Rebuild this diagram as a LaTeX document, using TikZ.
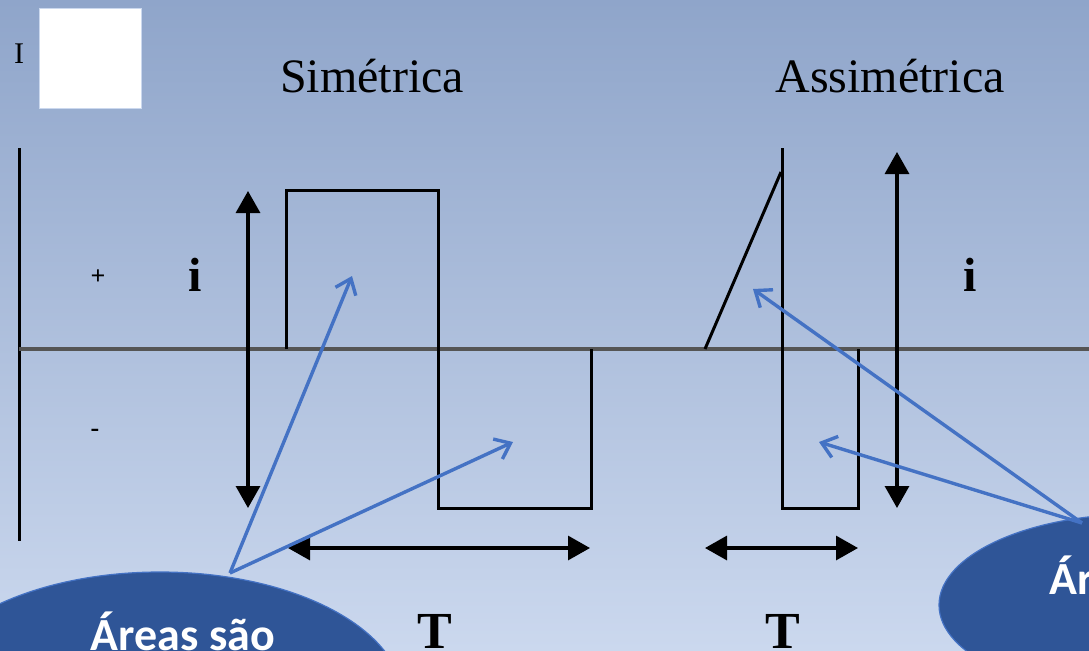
\documentclass[tikz,border=0pt]{standalone}
\usepackage{fontspec}
\setmainfont{Liberation Serif}
\newfontfamily\calloutfont{Carlito}
\usetikzlibrary{arrows.meta,shapes.geometric}
\definecolor{SlideTop}{RGB}{143,165,202}
\definecolor{SlideMid}{RGB}{184,201,233}
\definecolor{SlideBottom}{RGB}{203,216,238}
\definecolor{CalloutFill}{RGB}{47,85,151}
\definecolor{CalloutLine}{RGB}{68,114,196}
\definecolor{SlideBar}{RGB}{55,72,160}
\definecolor{AxisGray}{RGB}{85,85,85}

\begin{document}
\begin{tikzpicture}[
  x=0.5pt,y=-0.5pt,
  wave/.style={line width=1.5pt,black,line join=miter},
  axis/.style={line width=2.4pt,AxisGray},
  dim/.style={
    {Triangle[length=11pt,width=12pt]}-{Triangle[length=11pt,width=12pt]},
    line width=1.6pt,black
  },
  callout/.style={ellipse,draw=CalloutLine,line width=0.6pt,fill=CalloutFill,inner sep=0pt},
  pointer/.style={-{Straight Barb[length=7pt,width=11pt]},line width=1.7pt,CalloutLine},
  title/.style={font=\fontsize{24}{24}\selectfont,anchor=base},
  sign/.style={font=\fontsize{13}{13}\selectfont\bfseries},
  period/.style={font=\fontsize{26}{26}\selectfont\bfseries,anchor=base},
  callouttext/.style={font=\calloutfont\bfseries\fontsize{23}{23}\selectfont,text=white,anchor=base}
]
  \useasboundingbox (0,0) rectangle (1089,650);
  \shade[top color=SlideTop,middle color=SlideMid,bottom color=SlideBottom] (0,0) rectangle (1089,650);

  % header
  \fill[white,draw=SlideBottom,line width=0.5pt] (39,8) rectangle (141,108);
  \node[font=\fontsize{15}{15}\selectfont] (imark) at (19,54) {I};
  \node[title] (simetrica) at (372,92) {Simétrica};
  \node[title] (assimetrica) at (890,92) {Assimétrica};

  % axes
  \draw[wave] (19,148) -- (19,541);
  \draw[axis] (19,349) -- (1089,349);
  \node[sign] (plus) at (98,277) {+};
  \node[sign] (minus) at (95,433) {-};
  \node[title,anchor=center,font=\fontsize{24}{24}\selectfont\bfseries] (ileft) at (195,275) {i};
  \node[title,anchor=center,font=\fontsize{24}{24}\selectfont\bfseries] (iright) at (970,275) {i};

  % symmetric wave
  \draw[wave] (286,349) -- (286,190) -- (438,190) -- (438,508) -- (591,508) -- (591,349);
  \coordinate (ampA top) at (248,191);
  \coordinate (ampA bot) at (248,508);
  \draw[dim] (ampA top) -- (ampA bot);
  \coordinate (perA left) at (288,548);
  \coordinate (perA right) at (590,548);
  \draw[dim] (perA left) -- (perA right);
  \node[period] (periodA) at (435,648) {T};

  % asymmetric wave
  \draw[wave] (705,349) -- (781,172);
  \draw[wave] (782,148) -- (782,508) -- (858,508) -- (858,349);
  \coordinate (ampB top) at (897,152);
  \coordinate (ampB bot) at (897,508);
  \draw[dim] (ampB top) -- (ampB bot);
  \coordinate (perB left) at (705,548);
  \coordinate (perB right) at (858,548);
  \draw[dim] (perB left) -- (perB right);
  \node[period] (periodB) at (783,648) {T};

  % callouts
  \fill[SlideBar] (0,603) rectangle (100,650);
  \node[callout,minimum width=243pt,minimum height=128pt] (areasA) at (160,700) {};
  \node[callouttext] (areasA text) at (183,650) {Áreas são};
  \node[callout,minimum width=200pt,minimum height=91pt] (areasB) at (1139,605) {};
  \node[callouttext] (areasB text) at (1142,594) {Áreas são};

  \coordinate (areasA tip) at (230,573);
  \coordinate (posA) at (352,276);
  \coordinate (negA) at (513,442);
  \draw[pointer] (areasA tip) -- (posA);
  \draw[pointer] (areasA tip) -- (negA);
  \coordinate (areasB tip) at (1082,523);
  \coordinate (posB) at (753,289);
  \coordinate (negB) at (819,442);
  \draw[pointer] (areasB tip) -- (posB);
  \draw[pointer] (areasB tip) -- (negB);
\end{tikzpicture}
\end{document}
